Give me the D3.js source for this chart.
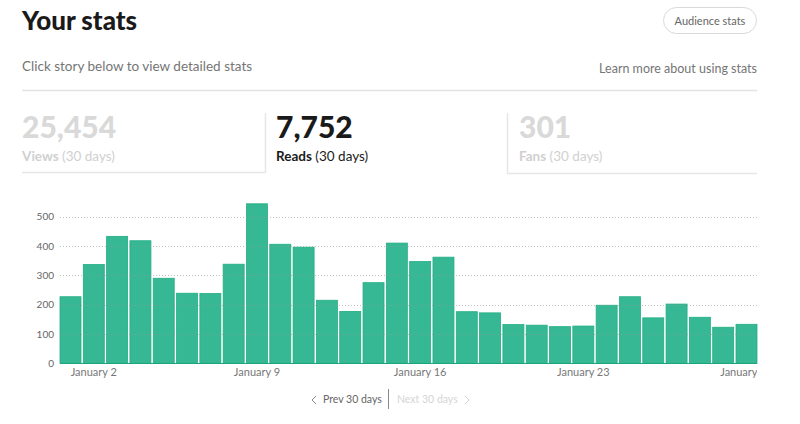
<!DOCTYPE html>
<html>
<head>
<meta charset="utf-8">
<script src="https://cdn.jsdelivr.net/npm/d3@7/dist/d3.min.js"></script>
<style>
  body { margin: 0; background: #fff; }
  svg { display: block; font-family: Lato, "Noto Sans", sans-serif; }
</style>
</head>
<body>
<svg id="stats" width="800" height="424"></svg>
<script>
// daily reads, January 1 .. January 30
var days = d3.range(1, 31).map(function(d) { return 'January ' + d })
var reads = [227, 337, 433, 418, 290, 239, 238, 338, 544, 406,
	396, 215, 177, 275, 410, 347, 362, 176, 172, 132,
	130, 125, 127, 198, 227, 155, 202, 157, 123, 133]
var yTicks = [0, 100, 200, 300, 400, 500]
var labelDays = ['January 2', 'January 9', 'January 16', 'January 23', 'January 30']

var tabNumbers = ['25,454', '7,752', '301']
var tabNames = ['Views', 'Reads', 'Fans']

var svg = d3.select('#stats')

// header
svg.append('text').text('Your stats')
	.attr('x', 22).attr('y', 30)
	.attr('font-size', 26).attr('font-weight', 900).attr('fill', '#1a1a1a')

svg.append('rect')
	.attr('x', 663.5).attr('y', 7.5).attr('width', 93).attr('height', 26).attr('rx', 13)
	.attr('fill', 'none').attr('stroke', '#d9d9d9')
svg.append('text').text('Audience stats')
	.attr('x', 710).attr('y', 24.5).attr('text-anchor', 'middle')
	.attr('font-size', 11).attr('fill', '#666')

svg.append('text').text('Click story below to view detailed stats')
	.attr('x', 22).attr('y', 71)
	.attr('font-size', 13.5).attr('fill', '#757575')
svg.append('text').text('Learn more about using stats')
	.attr('x', 757).attr('y', 73).attr('text-anchor', 'end')
	.attr('font-size', 12.5).attr('fill', '#757575')

svg.append('line')
	.attr('x1', 22).attr('x2', 757).attr('y1', 90.5).attr('y2', 90.5)
	.attr('stroke', '#e3e3e3').attr('stroke-width', 1.5)

// tabs
var tabX = [22, 276, 519]
var active = 1
var tabs = svg.selectAll('g.tab').data(tabNumbers)
	.enter().append('g').attr('class', 'tab')
	.attr('transform', function(d, i) { return 'translate(' + tabX[i] + ',0)' })

tabs.append('text').text(function(d) { return d })
	.attr('y', 138).attr('font-size', 30).attr('font-weight', 900)
	.attr('fill', function(d, i) { return i == active ? '#1a1a1a' : '#d9d9d9' })

var sub = tabs.append('text').attr('y', 161).attr('font-size', 13.5)
	.attr('fill', function(d, i) { return i == active ? '#1a1a1a' : '#d0d0d0' })
sub.append('tspan').attr('font-weight', 700).text(function(d, i) { return tabNames[i] })
sub.append('tspan').text(' (30 days)')

// borders of the inactive tabs
svg.append('path').attr('d', 'M22,172.5 H265.5 V113')
	.attr('fill', 'none').attr('stroke', '#e6e6e6').attr('stroke-width', 1.5)
svg.append('path').attr('d', 'M507.5,113 V173.5 H757')
	.attr('fill', 'none').attr('stroke', '#e6e6e6').attr('stroke-width', 1.5)

// chart
var x = d3.scaleBand().domain(days).range([60, 757]).paddingInner(0.1).paddingOuter(0)
var y = d3.scaleLinear().domain([0, 500]).range([363.3, 216.7])

var g = svg.append('g')

g.selectAll('rect.bar').data(reads)
	.enter().append('rect').attr('class', 'bar')
	.attr('x', function(d, i) { return x(days[i]) })
	.attr('width', x.bandwidth())
	.attr('y', function(d) { return y(d) })
	.attr('height', function(d) { return y(0) - y(d) })
	.attr('fill', '#36b894')
	.attr('stroke', '#22ad82').attr('stroke-width', 0.8)

// dotted grid on top of the bars
g.selectAll('line.grid').data(yTicks.slice(1))
	.enter().append('line').attr('class', 'grid')
	.attr('x1', 60).attr('x2', 757)
	.attr('y1', function(d) { return Math.round(y(d)) + 0.5 })
	.attr('y2', function(d) { return Math.round(y(d)) + 0.5 })
	.attr('stroke', '#999').attr('stroke-opacity', 0.6)
	.attr('stroke-dasharray', '1,2')

g.append('line')
	.attr('x1', 60).attr('x2', 757).attr('y1', 363.5).attr('y2', 363.5)
	.attr('stroke', '#1fa57c').attr('stroke-width', 1)

// y axis labels
var yAxis = g.append('g').attr('transform', 'translate(54,0)')
	.call(d3.axisLeft(y).tickValues(yTicks).tickSize(0).tickPadding(0))
yAxis.select('.domain').remove()
yAxis.selectAll('text').attr('font-size', 10).attr('fill', '#666')
	.attr('font-family', 'Lato, sans-serif')

// x axis labels, clipped at the right edge of the plot
svg.append('clipPath').attr('id', 'clipx')
	.append('rect').attr('x', 40).attr('y', -4).attr('width', 717).attr('height', 24)
var xAxis = g.append('g').attr('transform', 'translate(0,366)')
	.attr('clip-path', 'url(#clipx)')
	.call(d3.axisBottom(x).tickValues(labelDays).tickSize(0).tickPadding(2))
xAxis.select('.domain').remove()
xAxis.selectAll('text').attr('font-size', 11).attr('fill', '#777')
	.attr('font-family', 'Lato, sans-serif')

// paging
var nav = svg.append('g')
nav.append('path').attr('d', 'M316,396 L312,400 L316,404')
	.attr('fill', 'none').attr('stroke', '#888').attr('stroke-width', 1)
nav.append('text').text('Prev 30 days')
	.attr('x', 323).attr('y', 403).attr('font-size', 10.5).attr('fill', '#666')
nav.append('line').attr('x1', 388.5).attr('x2', 388.5).attr('y1', 389).attr('y2', 409)
	.attr('stroke', '#888')
nav.append('text').text('Next 30 days')
	.attr('x', 397).attr('y', 403).attr('font-size', 10.5).attr('fill', '#d5d5d5')
nav.append('path').attr('d', 'M465,396 L469,400 L465,404')
	.attr('fill', 'none').attr('stroke', '#d5d5d5').attr('stroke-width', 1)
</script>
</body>
</html>
